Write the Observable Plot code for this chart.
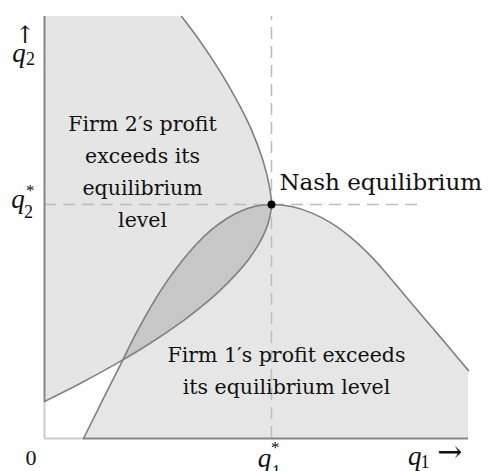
<!DOCTYPE html>
<html>
<head>
<meta charset="utf-8">
<script src="https://cdn.jsdelivr.net/npm/d3@7"></script>
<script src="https://cdn.jsdelivr.net/npm/@observablehq/plot@0.6"></script>
<style>
  html, body { margin: 0; padding: 0; background: #fff; }
</style>
</head>
<body>
<div id="chart"></div>
<script>
// Firm 1's iso-profit curve through the Nash equilibrium (q1* = q2* = 1)
const firm1Q1 = [0.172, 0.251, 0.335, 0.374, 0.405, 0.471, 0.537, 0.604, 0.670, 0.736, 0.802, 0.868, 0.934, 1.000, 1.088, 1.176, 1.264, 1.352, 1.441, 1.498, 1.612, 1.745, 1.868];
const firm1Q2 = [0.000, 0.154, 0.316, 0.393, 0.452, 0.567, 0.668, 0.756, 0.831, 0.892, 0.939, 0.973, 0.993, 1.000, 0.991, 0.964, 0.920, 0.857, 0.776, 0.715, 0.583, 0.432, 0.290];
// Firm 2's iso-profit curve through the Nash equilibrium
const firm2Q2 = [0.158, 0.236, 0.325, 0.408, 0.504, 0.560, 0.634, 0.699, 0.765, 0.829, 0.889, 0.940, 1.000, 1.086, 1.192, 1.321, 1.449, 1.577, 1.705, 1.803];
const firm2Q1 = [0.000, 0.159, 0.326, 0.467, 0.612, 0.687, 0.775, 0.841, 0.899, 0.943, 0.974, 0.991, 1.000, 0.989, 0.961, 0.911, 0.845, 0.768, 0.680, 0.604];
// Nash equilibrium
const nashQ1 = 1, nashQ2 = 1;
const q1Max = 1.868, q2Max = 1.803;

// Region labels
const regionLabels = [
  {text: "Firm 2′s profit\nexceeds its\nequilibrium\nlevel", x: 0.432, y: 0.903},
  {text: "Firm 1′s profit exceeds\nits equilibrium level", x: 1.066, y: 0.192}
];
const nashLabel = [{text: "Nash equilibrium", x: 1.035, y: 1.060}];

// Axis symbols
const mathQ = [{x: -0.142, y: 1.608}, {x: -0.146, y: 0.983}, {x: 0.940, y: -0.120}, {x: 1.601, y: -0.114}];
const mathSub = [{text: "2", x: -0.081, y: 1.594}, {text: "2", x: -0.090, y: 0.940}, {text: "1", x: 1.001, y: -0.167}, {text: "1", x: 1.657, y: -0.124}];
const mathStar = [{x: -0.081, y: 1.038}, {x: 0.998, y: -0.060}];
const zeroLabel = [{text: "0", x: -0.059, y: -0.115}];
const upArrow = [{text: "↑", x: -0.086, y: 1.690}];
const rightArrow = [{text: "→", x: 1.730, y: -0.060}];

const firm1 = firm1Q1.map((q1, i) => ({q1, q2: firm1Q2[i]}));
const firm2 = firm2Q1.map((q1, i) => ({q1, q2: firm2Q2[i]}));

const serif = "'DejaVu Serif', serif";
const mathFont = "'Liberation Serif', serif";

const chart = Plot.plot({
  width: 488,
  height: 471,
  marginLeft: 44,
  marginRight: 20,
  marginTop: 16,
  marginBottom: 33,
  x: {domain: [0, q1Max], axis: null},
  y: {domain: [0, q2Max], axis: null},
  style: {background: "white", overflow: "visible"},
  marks: [
    // shaded regions
    Plot.areaX(firm2, {y: "q2", x1: 0, x2: "q1", curve: "catmull-rom", fill: "#e5e5e5"}),
    Plot.areaY(firm1, {x: "q1", y1: 0, y2: "q2", curve: "catmull-rom", fill: "#e6e6e6"}),
    Plot.areaY(firm1, {x: "q1", y1: 0, y2: "q2", curve: "catmull-rom", fill: "#c7c7c7"}),
    // axes (light where not bounding a region)
    Plot.ruleX([0], {y1: 0, y2: firm2Q2[0], stroke: "#cccccc", strokeWidth: 2}),
    Plot.ruleY([0], {x1: 0, x2: firm1Q1[0], stroke: "#cccccc", strokeWidth: 2}),
    // dashed equilibrium guides
    Plot.ruleX([nashQ1], {y1: 0, y2: q2Max, stroke: "#bdbdbd", strokeWidth: 1.6, strokeDasharray: "12,7"}),
    Plot.ruleY([nashQ2], {x1: 0, x2: 1.665, stroke: "#bdbdbd", strokeWidth: 1.6, strokeDasharray: "12,7"}),
    // region boundaries along the axes
    Plot.ruleX([0], {y1: firm2Q2[0], y2: q2Max, stroke: "#858585", strokeWidth: 2}),
    Plot.ruleY([0], {x1: firm1Q1[0], x2: q1Max, stroke: "#858585", strokeWidth: 2}),
    // iso-profit curves
    Plot.line(firm2, {x: "q1", y: "q2", curve: "catmull-rom", stroke: "#808080", strokeWidth: 1.6}),
    Plot.line(firm1, {x: "q1", y: "q2", curve: "catmull-rom", stroke: "#808080", strokeWidth: 1.6}),
    // Nash point
    Plot.dot([{q1: nashQ1, q2: nashQ2}], {x: "q1", y: "q2", r: 4, fill: "black"}),
    // labels
    Plot.text(regionLabels, {x: "x", y: "y", text: "text", fontFamily: serif, fontSize: 20.5, lineHeight: 1.56, lineAnchor: "bottom", textAnchor: "middle", fill: "#111"}),
    Plot.text(nashLabel, {x: "x", y: "y", text: "text", fontFamily: serif, fontSize: 23, lineAnchor: "bottom", textAnchor: "start", fill: "#111"}),
    Plot.text(mathQ, {x: "x", y: "y", text: () => "q", fontFamily: mathFont, fontStyle: "italic", fontSize: 27, lineAnchor: "bottom", textAnchor: "start", fill: "#111"}),
    Plot.text(mathSub, {x: "x", y: "y", text: "text", fontFamily: mathFont, fontSize: 18, lineAnchor: "bottom", textAnchor: "start", fill: "#111"}),
    Plot.text(mathStar, {x: "x", y: "y", text: () => "*", fontFamily: mathFont, fontSize: 17, lineAnchor: "bottom", textAnchor: "start", fill: "#111"}),
    Plot.text(zeroLabel, {x: "x", y: "y", text: "text", fontFamily: mathFont, fontSize: 22, lineAnchor: "bottom", textAnchor: "middle", fill: "#111"}),
    Plot.text(upArrow, {x: "x", y: "y", text: "text", fontFamily: "'DejaVu Serif', serif", fontSize: 24, lineAnchor: "bottom", textAnchor: "middle", fill: "#111"}),
    Plot.text(rightArrow, {x: "x", y: "y", text: "text", fontFamily: "'DejaVu Serif', serif", fontSize: 30, lineAnchor: "middle", textAnchor: "start", fill: "#111"})
  ]
});

// Clip the darker copy of firm 1's region to firm 2's region: the overlap (lens).
const svg = d3.select(chart);
const firm2Path = svg.select('g[fill="#e5e5e5"] path');
const defs = svg.insert("defs", ":first-child");
defs.append("clipPath").attr("id", "lens-clip").append("path").attr("d", firm2Path.attr("d"));
svg.select('g[fill="#c7c7c7"]').attr("clip-path", "url(#lens-clip)");

document.getElementById("chart").appendChild(chart);
</script>
</body>
</html>
